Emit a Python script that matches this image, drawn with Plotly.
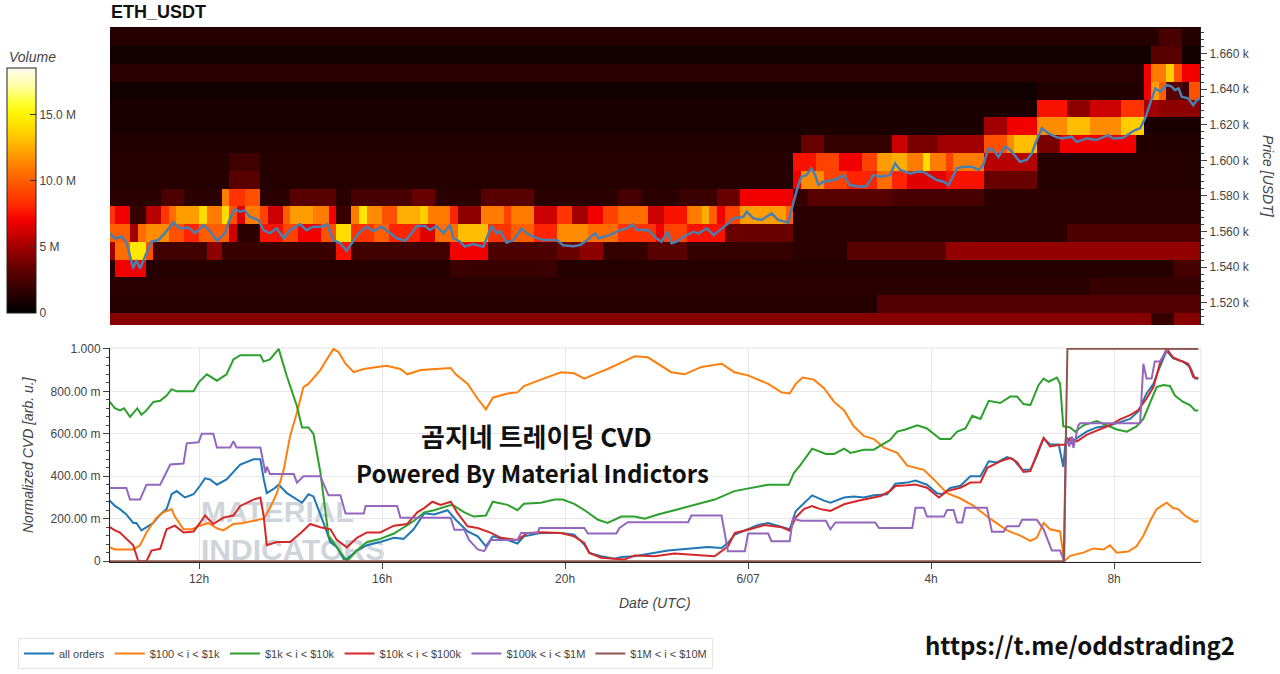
import pandas as pd
import plotly.graph_objects as go

# ---------------- data (hours since 2023-06-06 00:00) ----------------
BASE = pd.Timestamp("2023-06-06 00:00")

# price line (ETH_USDT close, USDT)
price_pts = [
    (10.05, 1559.0), (10.16, 1556.2), (10.31, 1557.1), (10.42, 1553.4), (10.56, 1539.3), (10.63, 1544.0),
    (10.71, 1539.3), (10.82, 1545.8), (10.96, 1554.3), (11.11, 1555.2), (11.25, 1559.0), (11.44, 1565.2),
    (11.58, 1561.8), (11.77, 1562.3), (11.92, 1559.0), (12.09, 1563.7), (12.24, 1560.2), (12.39, 1554.8),
    (12.57, 1559.0), (12.68, 1567.4), (12.79, 1572.5), (12.90, 1571.1), (13.00, 1571.9), (13.11, 1568.3),
    (13.30, 1566.5), (13.41, 1560.8), (13.55, 1559.0), (13.70, 1561.8), (13.85, 1556.2), (13.99, 1560.8),
    (14.21, 1564.2), (14.35, 1560.8), (14.50, 1562.7), (14.69, 1562.7), (14.80, 1564.2), (14.94, 1555.2),
    (15.09, 1553.4), (15.23, 1549.2), (15.38, 1554.5), (15.49, 1559.0), (15.67, 1562.7), (15.82, 1560.2),
    (16.00, 1562.7), (16.18, 1559.0), (16.33, 1556.2), (16.51, 1554.8), (16.65, 1559.0), (16.76, 1563.1),
    (16.95, 1563.1), (17.05, 1560.8), (17.20, 1563.1), (17.35, 1559.0), (17.49, 1563.7), (17.57, 1556.2),
    (17.71, 1554.3), (17.82, 1551.5), (18.00, 1553.0), (18.22, 1551.5), (18.33, 1559.0), (18.40, 1563.1),
    (18.51, 1559.0), (18.59, 1560.2), (18.73, 1553.7), (18.88, 1555.2), (19.06, 1561.8), (19.17, 1559.0),
    (19.31, 1557.1), (19.53, 1555.2), (19.83, 1555.2), (19.97, 1552.3), (20.19, 1551.7), (20.34, 1552.4),
    (20.49, 1555.2), (20.67, 1559.0), (20.74, 1556.2), (20.99, 1558.0), (21.21, 1560.8), (21.36, 1561.8),
    (21.49, 1564.0), (21.58, 1560.8), (21.83, 1560.8), (22.01, 1556.2), (22.12, 1554.3), (22.25, 1559.9),
    (22.34, 1553.4), (22.45, 1554.3), (22.60, 1557.1), (22.82, 1559.9), (22.93, 1559.0), (23.11, 1561.8),
    (23.26, 1558.0), (23.40, 1560.8), (23.58, 1564.6), (23.69, 1567.4), (23.91, 1568.3), (23.98, 1571.1),
    (24.13, 1567.4), (24.31, 1566.5), (24.42, 1568.3), (24.53, 1570.2), (24.67, 1566.5), (24.89, 1565.0),
    (25.00, 1575.8), (25.11, 1586.1), (25.18, 1590.8), (25.29, 1591.7), (25.40, 1595.5), (25.48, 1591.7),
    (25.55, 1586.1), (25.66, 1588.0), (25.88, 1589.0), (25.99, 1589.9), (26.10, 1591.7), (26.24, 1586.1),
    (26.46, 1585.2), (26.61, 1585.6), (26.75, 1591.7), (26.90, 1590.8), (27.12, 1591.7), (27.23, 1598.3),
    (27.34, 1594.6), (27.56, 1592.7), (27.71, 1593.6), (27.85, 1593.6), (27.96, 1591.7), (28.14, 1588.9),
    (28.29, 1588.0), (28.40, 1586.1), (28.51, 1591.7), (28.58, 1595.5), (28.73, 1596.4), (28.91, 1596.4),
    (29.06, 1594.6), (29.16, 1597.4), (29.27, 1606.7), (29.38, 1605.8), (29.49, 1602.0), (29.64, 1607.6),
    (29.75, 1605.8), (29.86, 1602.0), (29.96, 1599.2), (30.11, 1600.2), (30.22, 1603.9), (30.33, 1611.4),
    (30.44, 1618.0), (30.58, 1615.2), (30.73, 1613.3), (30.87, 1612.3), (31.09, 1613.3), (31.20, 1610.4),
    (31.42, 1612.3), (31.64, 1611.4), (31.89, 1614.2), (32.00, 1612.3), (32.22, 1612.7), (32.37, 1615.2),
    (32.48, 1617.0), (32.59, 1618.0), (32.70, 1623.6), (32.81, 1632.0), (32.92, 1640.4), (33.03, 1638.6),
    (33.17, 1642.3), (33.28, 1641.4), (33.35, 1639.5), (33.43, 1640.4), (33.50, 1635.7), (33.64, 1634.8),
    (33.75, 1631.0), (33.83, 1633.8), (33.90, 1634.8),
]

# heatmap: price-bin centres, default volume per row (M) and segments (start h, end h, volume M)
seg_1509 = [(32.83, 33.33, 1.8)]
seg_1519 = [(26.8, 34.0, 2.8)]
seg_1529 = [(31.5, 34.0, 1.9)]
seg_1539 = [(10.23, 10.89, 7.0), (17.57, 19.9, 2.0), (33.4, 34.0, 2.4)]
seg_1549 = [(10.0, 10.23, 5.0), (10.23, 10.56, 10.5), (10.56, 10.89, 14.5), (10.89, 11.04, 9.5),
            (11.04, 12.24, 2.2), (12.24, 12.53, 4.5), (12.53, 14.94, 2.0), (14.94, 15.38, 7.5),
            (15.38, 17.42, 2.2), (17.42, 18.3, 7.0), (18.3, 19.9, 2.6), (19.9, 20.34, 3.5),
            (20.34, 20.77, 4.5), (20.77, 21.8, 1.8), (21.8, 22.74, 3.0), (22.74, 24.93, 1.8),
            (24.93, 26.1, 1.4), (26.1, 28.4, 3.0), (28.4, 34.0, 4.6)]
seg_1559 = [(10.0, 10.56, 10.0), (10.56, 10.71, 5.0), (10.71, 10.89, 10.5), (10.89, 11.29, 11.5),
            (11.29, 11.7, 9.5), (11.7, 12.0, 8.0), (12.0, 12.61, 10.0), (12.61, 12.9, 6.0),
            (12.9, 13.41, 1.5), (13.41, 13.8, 7.5), (13.8, 14.2, 9.0), (14.2, 14.6, 7.0),
            (14.6, 14.94, 9.5), (14.94, 15.38, 14.0), (15.38, 15.8, 8.5), (15.8, 16.2, 10.0),
            (16.2, 16.76, 8.0), (16.76, 17.13, 6.5), (17.13, 17.71, 10.5), (17.71, 18.3, 13.0),
            (18.3, 18.8, 8.5), (18.8, 19.3, 10.0), (19.3, 19.9, 8.0), (19.9, 20.56, 11.5),
            (20.56, 21.25, 10.5), (21.25, 21.94, 8.5), (21.94, 22.23, 7.0), (22.23, 22.74, 9.0),
            (22.74, 23.58, 7.5), (23.58, 24.93, 3.5), (31.0, 34.0, 2.6)]
seg_1569 = [(10.0, 10.23, 8.5), (10.23, 10.42, 7.0), (10.42, 10.56, 3.5), (10.56, 10.89, 1.8),
            (10.89, 11.22, 5.5), (11.22, 11.4, 8.5), (11.4, 11.58, 10.5), (11.58, 12.02, 12.0),
            (12.02, 12.24, 14.0), (12.24, 12.42, 11.0), (12.42, 12.57, 9.0), (12.57, 12.75, 14.0),
            (12.75, 12.9, 9.5), (12.9, 13.04, 6.5), (13.04, 13.41, 11.0), (13.41, 13.55, 9.0),
            (13.55, 13.85, 6.0), (13.85, 14.07, 10.0), (14.07, 14.5, 12.0), (14.5, 14.87, 11.0),
            (14.87, 15.05, 7.0), (15.05, 15.38, 2.0), (15.38, 15.52, 11.0), (15.52, 15.74, 14.5),
            (15.74, 16.03, 11.5), (16.03, 16.4, 9.5), (16.4, 16.76, 12.5), (16.76, 16.98, 13.5),
            (16.98, 17.42, 11.0), (17.42, 17.75, 8.0), (17.75, 18.22, 4.5), (18.22, 18.59, 11.0),
            (18.59, 18.88, 9.0), (18.88, 19.39, 11.0), (19.39, 19.9, 6.0), (19.9, 20.19, 8.5),
            (20.19, 20.56, 5.0), (20.56, 20.88, 7.0), (20.88, 21.25, 9.0), (21.25, 21.8, 10.5),
            (21.8, 22.09, 6.0), (22.09, 22.74, 7.5), (22.74, 23.04, 11.0), (23.04, 23.25, 12.5),
            (23.25, 23.4, 10.0), (23.4, 23.58, 7.0), (23.58, 23.77, 9.0), (23.77, 24.86, 12.0),
            (24.86, 25.0, 10.0)]
seg_1579 = [(11.22, 11.73, 2.6), (12.53, 12.72, 11.0), (12.72, 13.04, 8.5), (13.04, 13.41, 9.5),
            (14.07, 14.94, 3.0), (15.38, 16.69, 2.4), (16.69, 17.13, 3.5), (18.15, 19.39, 3.0),
            (21.21, 21.72, 2.4), (22.53, 23.4, 2.0), (23.4, 23.77, 3.5), (23.77, 24.93, 7.0),
            (24.93, 25.3, 1.8), (25.3, 27.12, 3.0), (27.12, 29.09, 2.5)]
seg_1589 = [(12.75, 13.26, 3.0), (24.93, 25.15, 7.0), (25.15, 25.59, 11.5), (25.59, 26.17, 9.0),
            (26.17, 26.76, 8.0), (26.76, 27.12, 10.5), (27.12, 27.56, 8.0), (27.56, 28.29, 6.5),
            (28.29, 29.09, 7.5), (29.09, 30.26, 3.5)]
seg_1599 = [(12.68, 13.33, 2.2), (24.93, 25.08, 3.0), (25.08, 25.5, 7.5), (25.5, 26.0, 9.0),
            (26.0, 26.5, 7.0), (26.5, 26.76, 9.0), (26.76, 27.12, 12.0), (27.12, 27.56, 12.5),
            (27.56, 27.78, 11.0), (27.78, 28.07, 14.0), (28.07, 28.29, 11.0), (28.29, 28.58, 9.0),
            (28.58, 29.09, 11.0), (29.09, 29.24, 8.5), (29.24, 30.26, 5.5)]
seg_1609 = [(25.23, 25.59, 3.5), (25.59, 27.12, 1.8), (27.12, 27.56, 6.0), (27.56, 28.14, 4.0),
            (28.14, 29.24, 5.0), (29.24, 29.6, 9.5), (29.6, 29.9, 11.5), (29.9, 30.26, 13.0),
            (30.26, 30.77, 4.0), (30.77, 32.52, 7.0)]
seg_1619 = [(29.24, 29.7, 5.0), (29.7, 30.26, 7.0), (30.26, 30.99, 11.5), (30.99, 31.5, 13.0),
            (31.5, 32.23, 11.5), (32.23, 32.59, 13.5), (32.59, 32.74, 7.0)]
seg_1629 = [(30.26, 31.06, 7.5), (31.06, 31.5, 4.5), (31.5, 32.23, 6.0), (32.23, 32.74, 8.5),
            (32.74, 32.96, 5.0), (32.96, 34.0, 4.5)]
seg_1639 = [(30.26, 32.67, 1.2), (32.67, 32.83, 7.0), (32.83, 33.0, 12.0), (33.0, 33.17, 10.0),
            (33.17, 33.5, 3.0), (33.5, 33.67, 2.0), (33.67, 34.0, 9.5)]
seg_1649 = [(32.67, 32.9, 7.0), (32.9, 33.1, 11.0), (33.1, 33.25, 7.5), (33.25, 33.4, 13.5),
            (33.4, 33.55, 9.5), (33.55, 34.0, 7.0)]
seg_1659 = [(32.8, 33.5, 3.0)]
seg_1669 = [(33.0, 33.5, 2.5)]
seg_1679 = []

row_prices = [1509, 1519, 1529, 1539, 1549, 1559, 1569, 1579, 1589, 1599,
              1609, 1619, 1629, 1639, 1649, 1659, 1669, 1679]
row_base = [4.3, 1.3, 1.4, 1.3, 2.0, 1.5, 1.4, 1.5, 1.3, 1.3,
            1.2, 1.0, 1.0, 0.6, 1.4, 0.7, 1.3, 1.3]
row_segs = [seg_1509, seg_1519, seg_1529, seg_1539, seg_1549, seg_1559, seg_1569, seg_1579, seg_1589,
            seg_1599, seg_1609, seg_1619, seg_1629, seg_1639, seg_1649, seg_1659, seg_1669, seg_1679]

# normalized CVD series (value 0..1)
cvd_all = [
    (10.05, 0.285), (10.16, 0.26), (10.27, 0.245), (10.41, 0.22), (10.56, 0.18), (10.63, 0.18), (10.74, 0.145),
    (11.00, 0.18), (11.15, 0.22), (11.29, 0.245), (11.40, 0.315), (11.51, 0.33), (11.69, 0.30), (11.88, 0.315),
    (12.02, 0.355), (12.13, 0.39), (12.24, 0.385), (12.39, 0.36), (12.60, 0.385), (12.75, 0.42), (12.90, 0.455),
    (13.19, 0.48), (13.34, 0.48), (13.41, 0.39), (13.48, 0.32), (13.63, 0.34), (13.74, 0.36), (13.92, 0.32),
    (14.07, 0.30), (14.25, 0.275), (14.39, 0.315), (14.50, 0.305), (14.72, 0.18), (14.87, 0.09), (15.01, 0.065),
    (15.16, 0.01), (15.23, 0.01), (15.45, 0.05), (15.67, 0.075), (15.96, 0.09), (16.26, 0.11), (16.47, 0.105),
    (16.69, 0.15), (16.92, 0.225), (17.14, 0.22), (17.43, 0.24), (17.61, 0.195), (17.87, 0.14), (18.09, 0.117),
    (18.27, 0.07), (18.42, 0.117), (18.74, 0.10), (18.96, 0.083), (19.10, 0.117), (19.47, 0.133), (19.91, 0.133),
    (20.20, 0.125), (20.42, 0.078), (20.53, 0.039), (20.79, 0.023), (21.08, 0.011), (21.23, 0.02), (21.52, 0.023),
    (21.96, 0.039), (22.25, 0.05), (22.69, 0.058), (23.12, 0.067), (23.42, 0.062), (23.56, 0.086), (23.71, 0.125),
    (24.00, 0.15), (24.22, 0.17), (24.44, 0.18), (24.73, 0.16), (24.91, 0.15), (25.04, 0.235), (25.22, 0.275),
    (25.40, 0.31), (25.66, 0.285), (25.80, 0.275), (26.10, 0.30), (26.31, 0.305), (26.53, 0.30), (26.75, 0.31),
    (27.04, 0.315), (27.22, 0.365), (27.48, 0.37), (27.66, 0.38), (27.91, 0.36), (28.13, 0.32), (28.24, 0.315),
    (28.42, 0.345), (28.64, 0.355), (28.86, 0.40), (29.08, 0.40), (29.26, 0.47), (29.44, 0.465), (29.66, 0.49),
    (29.80, 0.48), (29.99, 0.43), (30.17, 0.43), (30.31, 0.495), (30.46, 0.58), (30.60, 0.55), (30.79, 0.55),
    (30.89, 0.445), (30.95, 0.585), (31.08, 0.555), (31.19, 0.58), (31.40, 0.61), (31.62, 0.63), (31.91, 0.64),
    (32.13, 0.655), (32.35, 0.67), (32.53, 0.705), (32.71, 0.79), (32.86, 0.835), (33.00, 0.915), (33.15, 0.99),
    (33.29, 0.955), (33.51, 0.94), (33.66, 0.915), (33.77, 0.86), (33.84, 0.86),
]
cvd_100_1k = [
    (10.05, 0.065), (10.16, 0.055), (10.56, 0.055), (10.71, 0.075), (10.85, 0.135), (11.07, 0.205), (11.22, 0.23),
    (11.40, 0.245), (11.47, 0.21), (11.66, 0.15), (11.84, 0.15), (12.02, 0.167), (12.20, 0.18), (12.39, 0.155),
    (12.53, 0.145), (12.75, 0.175), (12.97, 0.18), (13.19, 0.19), (13.41, 0.20), (13.55, 0.25), (13.70, 0.32),
    (13.85, 0.43), (13.99, 0.59), (14.14, 0.70), (14.28, 0.82), (14.39, 0.835), (14.54, 0.87), (14.65, 0.90),
    (14.76, 0.94), (14.94, 1.0), (15.05, 0.985), (15.20, 0.93), (15.38, 0.89), (15.60, 0.905), (15.89, 0.915),
    (16.10, 0.92), (16.40, 0.905), (16.55, 0.88), (16.85, 0.90), (17.14, 0.905), (17.50, 0.91), (17.61, 0.88),
    (17.87, 0.835), (18.09, 0.765), (18.27, 0.715), (18.42, 0.77), (18.74, 0.79), (18.96, 0.795), (19.10, 0.825),
    (19.47, 0.855), (19.91, 0.89), (20.20, 0.885), (20.42, 0.86), (20.64, 0.88), (20.93, 0.905), (21.23, 0.935),
    (21.52, 0.965), (21.81, 0.96), (22.03, 0.93), (22.32, 0.89), (22.61, 0.88), (22.98, 0.915), (23.42, 0.93),
    (23.70, 0.89), (24.00, 0.875), (24.44, 0.835), (24.73, 0.795), (24.91, 0.79), (25.04, 0.835), (25.19, 0.865),
    (25.44, 0.855), (25.66, 0.815), (25.88, 0.75), (26.10, 0.71), (26.31, 0.635), (26.53, 0.59), (26.75, 0.575),
    (26.97, 0.535), (27.26, 0.51), (27.48, 0.45), (27.84, 0.43), (28.06, 0.385), (28.35, 0.32), (28.64, 0.295),
    (28.93, 0.26), (29.29, 0.20), (29.66, 0.145), (29.95, 0.12), (30.17, 0.095), (30.31, 0.11), (30.46, 0.18),
    (30.60, 0.15), (30.82, 0.14), (30.91, 0.0), (31.04, 0.025), (31.33, 0.04), (31.55, 0.06), (31.77, 0.055),
    (31.91, 0.075), (32.06, 0.04), (32.31, 0.045), (32.49, 0.07), (32.64, 0.12), (32.79, 0.19), (32.93, 0.245),
    (33.15, 0.275), (33.29, 0.25), (33.40, 0.245), (33.55, 0.215), (33.77, 0.185), (33.84, 0.19),
]
cvd_1k_10k = [
    (10.05, 0.75), (10.16, 0.72), (10.27, 0.71), (10.36, 0.72), (10.49, 0.68), (10.65, 0.72), (10.74, 0.69),
    (10.85, 0.71), (11.00, 0.75), (11.15, 0.755), (11.29, 0.78), (11.40, 0.81), (11.51, 0.80), (11.88, 0.80),
    (12.00, 0.845), (12.17, 0.88), (12.39, 0.85), (12.60, 0.88), (12.75, 0.95), (12.90, 0.97), (13.10, 0.97),
    (13.34, 0.97), (13.41, 0.94), (13.55, 0.95), (13.74, 1.0), (13.92, 0.87), (14.14, 0.73), (14.25, 0.63),
    (14.39, 0.63), (14.50, 0.60), (14.65, 0.42), (14.83, 0.12), (15.23, 0.0), (15.45, 0.05), (15.67, 0.09),
    (15.96, 0.105), (16.26, 0.13), (16.41, 0.15), (16.60, 0.175), (16.70, 0.19), (16.92, 0.23), (17.14, 0.24),
    (17.43, 0.26), (17.54, 0.265), (17.80, 0.23), (18.00, 0.21), (18.27, 0.215), (18.42, 0.28), (18.74, 0.265),
    (18.96, 0.24), (19.10, 0.27), (19.47, 0.275), (19.77, 0.29), (19.95, 0.29), (20.20, 0.27), (20.46, 0.235),
    (20.72, 0.195), (20.93, 0.18), (21.23, 0.21), (21.52, 0.21), (21.74, 0.20), (22.03, 0.22), (22.39, 0.24),
    (22.83, 0.265), (23.27, 0.29), (23.70, 0.33), (24.15, 0.35), (24.44, 0.36), (24.89, 0.36), (25.00, 0.415),
    (25.15, 0.455), (25.40, 0.53), (25.70, 0.505), (25.88, 0.505), (26.10, 0.53), (26.24, 0.51), (26.53, 0.525),
    (26.75, 0.525), (26.90, 0.545), (27.10, 0.57), (27.26, 0.61), (27.44, 0.62), (27.70, 0.64), (27.91, 0.625),
    (28.20, 0.575), (28.42, 0.575), (28.57, 0.61), (28.75, 0.625), (28.90, 0.685), (29.08, 0.67), (29.26, 0.755),
    (29.51, 0.745), (29.73, 0.775), (29.88, 0.775), (30.02, 0.74), (30.17, 0.735), (30.35, 0.83), (30.46, 0.86),
    (30.57, 0.845), (30.75, 0.865), (30.82, 0.835), (30.89, 0.635), (31.04, 0.63), (31.15, 0.61), (31.33, 0.64),
    (31.62, 0.66), (31.84, 0.64), (32.06, 0.62), (32.28, 0.61), (32.49, 0.635), (32.64, 0.67), (32.79, 0.75),
    (32.93, 0.82), (33.08, 0.83), (33.22, 0.825), (33.33, 0.78), (33.51, 0.75), (33.66, 0.735), (33.77, 0.71),
    (33.84, 0.71),
]
cvd_10k_100k = [
    (10.05, 0.16), (10.16, 0.145), (10.27, 0.135), (10.41, 0.105), (10.56, 0.075), (10.67, 0.0), (10.85, 0.0),
    (10.96, 0.05), (11.15, 0.058), (11.29, 0.15), (11.47, 0.167), (11.66, 0.135), (11.88, 0.14), (12.02, 0.18),
    (12.13, 0.215), (12.31, 0.175), (12.53, 0.205), (12.75, 0.215), (12.90, 0.26), (13.19, 0.29), (13.34, 0.30),
    (13.41, 0.215), (13.48, 0.075), (13.70, 0.09), (13.99, 0.09), (14.21, 0.13), (14.43, 0.175), (14.65, 0.16),
    (14.87, 0.15), (15.01, 0.10), (15.23, 0.065), (15.45, 0.11), (15.67, 0.135), (15.96, 0.135), (16.26, 0.167),
    (16.55, 0.175), (16.77, 0.23), (16.92, 0.25), (17.10, 0.28), (17.28, 0.265), (17.50, 0.28), (17.65, 0.226),
    (17.87, 0.164), (18.09, 0.156), (18.38, 0.133), (18.60, 0.11), (18.96, 0.10), (19.18, 0.133), (19.47, 0.136),
    (19.91, 0.133), (20.20, 0.117), (20.42, 0.086), (20.53, 0.039), (20.79, 0.016), (21.08, 0.011), (21.30, 0.008),
    (21.52, 0.027), (21.96, 0.023), (22.39, 0.036), (22.83, 0.03), (23.27, 0.023), (23.56, 0.07), (23.71, 0.133),
    (24.00, 0.148), (24.36, 0.17), (24.73, 0.16), (24.91, 0.143), (25.04, 0.205), (25.22, 0.245), (25.40, 0.26),
    (25.58, 0.245), (25.80, 0.237), (26.10, 0.268), (26.38, 0.283), (26.60, 0.294), (26.90, 0.307), (27.10, 0.33),
    (27.22, 0.354), (27.48, 0.357), (27.66, 0.361), (27.91, 0.346), (28.17, 0.30), (28.35, 0.33), (28.64, 0.346),
    (28.86, 0.37), (29.08, 0.372), (29.23, 0.44), (29.51, 0.47), (29.73, 0.486), (29.88, 0.466), (30.02, 0.42),
    (30.17, 0.424), (30.35, 0.525), (30.46, 0.58), (30.60, 0.54), (30.82, 0.548), (30.93, 0.548), (31.04, 0.58),
    (31.19, 0.564), (31.40, 0.595), (31.62, 0.615), (31.91, 0.64), (32.13, 0.668), (32.35, 0.688), (32.53, 0.712),
    (32.71, 0.766), (32.86, 0.82), (33.00, 0.93), (33.15, 1.0), (33.29, 0.96), (33.44, 0.945), (33.62, 0.93),
    (33.73, 0.868), (33.84, 0.86),
]
cvd_100k_1m = [
    (10.05, 0.345), (10.41, 0.345), (10.49, 0.29), (10.71, 0.29), (10.85, 0.36), (11.15, 0.36), (11.37, 0.455),
    (11.66, 0.46), (11.73, 0.555), (11.99, 0.56), (12.06, 0.60), (12.31, 0.60), (12.39, 0.535), (12.68, 0.535),
    (12.75, 0.565), (12.82, 0.535), (13.34, 0.535), (13.45, 0.415), (13.48, 0.445), (13.55, 0.41), (14.07, 0.41),
    (14.14, 0.37), (14.28, 0.40), (14.65, 0.40), (14.76, 0.345), (14.83, 0.31), (15.09, 0.31), (15.20, 0.225),
    (15.60, 0.225), (15.64, 0.26), (16.33, 0.26), (16.40, 0.205), (17.50, 0.205), (17.58, 0.148), (17.80, 0.148),
    (17.90, 0.10), (18.09, 0.055), (18.23, 0.047), (18.38, 0.10), (18.96, 0.10), (19.04, 0.133), (19.40, 0.133),
    (19.44, 0.156), (20.42, 0.156), (20.50, 0.13), (21.12, 0.13), (21.19, 0.156), (21.37, 0.183), (22.69, 0.183),
    (22.76, 0.215), (23.42, 0.215), (23.56, 0.047), (23.93, 0.047), (24.00, 0.13), (24.44, 0.13), (24.51, 0.094),
    (24.91, 0.094), (24.98, 0.20), (25.15, 0.19), (25.70, 0.19), (25.80, 0.15), (25.91, 0.182), (26.78, 0.182),
    (26.86, 0.156), (27.59, 0.156), (27.66, 0.252), (27.84, 0.252), (27.91, 0.21), (28.28, 0.21), (28.35, 0.241),
    (28.49, 0.241), (28.57, 0.182), (28.68, 0.182), (28.75, 0.252), (29.22, 0.252), (29.33, 0.139), (29.59, 0.139),
    (29.66, 0.164), (29.92, 0.164), (29.99, 0.195), (30.31, 0.195), (30.46, 0.15), (30.64, 0.05), (30.82, 0.05),
    (30.91, 0.0), (30.95, 0.587), (31.02, 0.54), (31.08, 0.587), (31.11, 0.533), (31.22, 0.64), (31.26, 0.65),
    (32.57, 0.65), (32.64, 0.93), (32.71, 0.86), (32.82, 0.86), (32.89, 0.94), (33.00, 0.94), (33.18, 1.0),
    (33.84, 1.0),
]
cvd_1m_10m = [(10.05, 0.0), (30.90, 0.0), (30.98, 1.0), (33.84, 1.0)]

series_names = ["all orders", "$100 < i < $1k", "$1k < i < $10k", "$10k < i < $100k",
                "$100k < i < $1M", "$1M < i < $10M"]
series_data = [cvd_all, cvd_100_1k, cvd_1k_10k, cvd_10k_100k, cvd_100k_1m, cvd_1m_10m]
series_colors = ["#1f77b4", "#ff7f0e", "#2ca02c", "#d62728", "#9467bd", "#8c564b"]

price_ticks = [1520, 1540, 1560, 1580, 1600, 1620, 1640, 1660]
price_ticktext = ["1.520 k", "1.540 k", "1.560 k", "1.580 k", "1.600 k", "1.620 k", "1.640 k", "1.660 k"]
cvd_ticks = [0, 0.2, 0.4, 0.6, 0.8, 1.0]
cvd_ticktext = ["0", "200.00 m", "400.00 m", "600.00 m", "800.00 m", "1.000"]
time_ticks_h = [12, 16, 20, 24, 28, 32]
time_ticktext = ["12h", "16h", "20h", "6/07", "4h", "8h"]
vol_ticks = [0, 5e6, 10e6, 15e6]
vol_ticktext = ["0", "5 M", "10.0 M", "15.0 M"]

# ---------------- build ----------------
def T(h):
    return BASE + pd.Timedelta(hours=h)

W, H = 1280, 674
def px(x):
    return x / W
def py(y):
    return 1 - y / H

col_h = [10.0 + (k + 0.5) / 6 for k in range(144)]
z = []
for base, segs in zip(row_base, row_segs):
    row = []
    for c in col_h:
        v = base
        for s, e, val in segs:
            if s <= c < e:
                v = val
        row.append(v * 1e6)
    z.append(row)

ZMAX = 18.5e6
stops_m = [(0, "#000000"), (1.0, "#1c0000"), (2.0, "#3a0000"), (3.0, "#580000"), (4.0, "#7a0000"),
           (5.0, "#a20000"), (6.0, "#cc0000"), (7.0, "#f20000"), (8.0, "#ff2400"), (9.0, "#ff4200"),
           (10.0, "#ff5e00"), (11.0, "#ff7c00"), (12.0, "#ff9c00"), (13.0, "#ffbd00"), (14.0, "#ffdc00"),
           (15.0, "#fff400"), (16.0, "#ffff3a"), (17.0, "#ffff9a"), (18.5, "#fffaf0")]
colorscale = [[m * 1e6 / ZMAX, c] for m, c in stops_m]

fig = go.Figure()
fig.add_trace(go.Heatmap(
    x=[T(h) for h in col_h], y=row_prices, z=z, zmin=0, zmax=ZMAX,
    colorscale=colorscale, xaxis="x", yaxis="y", showlegend=False, hoverinfo="skip",
    colorbar=dict(x=px(7), xanchor="left", y=py(313), yanchor="bottom",
                  len=245, lenmode="pixels", thickness=29, thicknessmode="pixels",
                  outlinecolor="#222", outlinewidth=1, xpad=0, ypad=0,
                  tickvals=vol_ticks, ticktext=vol_ticktext, ticks="inside", ticklen=6,
                  tickcolor="#333", tickfont=dict(size=12, color="#444")),
))
fig.add_trace(go.Scatter(
    x=[T(h) for h, _ in price_pts], y=[p for _, p in price_pts], mode="lines",
    line=dict(color="#4a7fb0", width=2.5), xaxis="x", yaxis="y", showlegend=False, hoverinfo="skip",
))
for name, data, color in zip(series_names, series_data, series_colors):
    fig.add_trace(go.Scatter(
        x=[T(h) for h, _ in data], y=[v for _, v in data], mode="lines", name=name,
        line=dict(color=color, width=2), xaxis="x2", yaxis="y2",
    ))

xr = [T(10.053), T(33.9)]
axis_font = dict(family="Liberation Sans, Arial, sans-serif", size=12, color="#444")
fig.update_layout(
    width=W, height=H, margin=dict(l=0, r=0, t=0, b=0, autoexpand=False),
    paper_bgcolor="white", plot_bgcolor="rgba(0,0,0,0)",
    font=dict(family="Liberation Sans, Arial, sans-serif", size=12, color="#444"),
    xaxis=dict(domain=[px(110), px(1200)], anchor="y", range=xr, showticklabels=False,
               ticks="", showgrid=False, zeroline=False, showline=False),
    yaxis=dict(domain=[py(325), py(27)], anchor="x", side="right", range=[1507.5, 1674.9],
               tickvals=price_ticks, ticktext=price_ticktext, ticks="outside", ticklen=6,
               tickcolor="#444", showline=True, linecolor="#222", linewidth=1,
               minor=dict(ticks="outside", ticklen=3, dtick=4, tickcolor="#444", showgrid=False),
               showgrid=False, zeroline=False, tickfont=axis_font),
    xaxis2=dict(domain=[px(110), px(1201)], anchor="y2", range=xr,
                tickvals=[T(h) for h in time_ticks_h], ticktext=time_ticktext,
                ticks="outside", ticklen=6, tickcolor="#444", showline=True, linecolor="#222",
                linewidth=1, showgrid=True, gridcolor="#e6e6e6", zeroline=False, tickfont=axis_font),
    yaxis2=dict(domain=[py(562), py(348)], anchor="x2", range=[-0.004, 1.004],
                tickvals=cvd_ticks, ticktext=cvd_ticktext, ticks="outside", ticklen=6,
                tickcolor="#444", showline=True, linecolor="#222", linewidth=1,
                minor=dict(ticks="outside", ticklen=3, dtick=0.04, tickcolor="#444", showgrid=False),
                showgrid=True, gridcolor="#e6e6e6", zeroline=False, tickfont=axis_font),
    legend=dict(orientation="h", x=px(18), xanchor="left", y=py(638), yanchor="top",
                bgcolor="white", bordercolor="#e5e5e5", borderwidth=1,
                font=dict(size=11, color="#444"), itemwidth=30, traceorder="normal"),
)

# outline of lower plot (right border)
fig.add_shape(type="rect", xref="x2 domain", yref="y2 domain", x0=0, x1=1, y0=0, y1=1,
              line=dict(color="#e5e5e5", width=1), fillcolor="rgba(0,0,0,0)", layer="below")

# watermark (below traces)
wm_font = dict(family="Liberation Sans Narrow, Liberation Sans, Arial", size=30, color="rgba(190,198,205,0.75)")
fig.add_shape(type="rect", xref="paper", yref="paper", x0=px(198), x1=px(380), y0=py(526), y1=py(491),
              line=dict(width=0), fillcolor="rgba(0,0,0,0)", layer="below",
              label=dict(text="<b>MATERIAL</b>", font=wm_font, textposition="middle left", padding=0))
fig.add_shape(type="rect", xref="paper", yref="paper", x0=px(198), x1=px(380), y0=py(564), y1=py(529),
              line=dict(width=0), fillcolor="rgba(0,0,0,0)", layer="below",
              label=dict(text="<b>INDICATORS</b>", font=wm_font, textposition="middle left", padding=0))

ann = [
    dict(text="<b>ETH_USDT</b>", x=px(109), y=py(12), xanchor="left", yanchor="middle",
         font=dict(family="Liberation Sans, Arial", size=18, color="#111")),
    dict(text="<i>Volume</i>", x=px(7), y=py(57), xanchor="left", yanchor="middle",
         font=dict(family="Liberation Sans, Arial", size=14, color="#444")),
    dict(text="<i>Price [USDT]</i>", x=px(1268), y=py(176), xanchor="center", yanchor="middle",
         textangle=90, font=dict(family="Liberation Sans, Arial", size=14, color="#444")),
    dict(text="<i>Normalized CVD [arb. u.]</i>", x=px(28), y=py(455), xanchor="center", yanchor="middle",
         textangle=-90, font=dict(family="Liberation Sans, Arial", size=14, color="#444")),
    dict(text="<i>Date (UTC)</i>", x=px(655), y=py(603), xanchor="center", yanchor="middle",
         font=dict(family="Liberation Sans, Arial", size=14, color="#444")),
    dict(text="<b>곰지네 트레이딩 CVD</b>", x=px(536), y=py(435), xanchor="center", yanchor="middle",
         borderpad=0, font=dict(family="Noto Sans CJK KR", size=26, color="#111")),
    dict(text="<b>Powered By Material Indictors</b>", x=px(532), y=py(472), xanchor="center", yanchor="middle",
         borderpad=0, font=dict(family="Noto Sans CJK KR", size=24, color="#111")),
    dict(text="<b>https://t.me/oddstrading2</b>", x=px(1080), y=py(644), xanchor="center", yanchor="middle",
         font=dict(family="Noto Sans CJK KR", size=24, color="#111")),
]
for a in ann:
    a.update(xref="paper", yref="paper", showarrow=False)
    fig.add_annotation(**a)

fig.write_html("out.html")
